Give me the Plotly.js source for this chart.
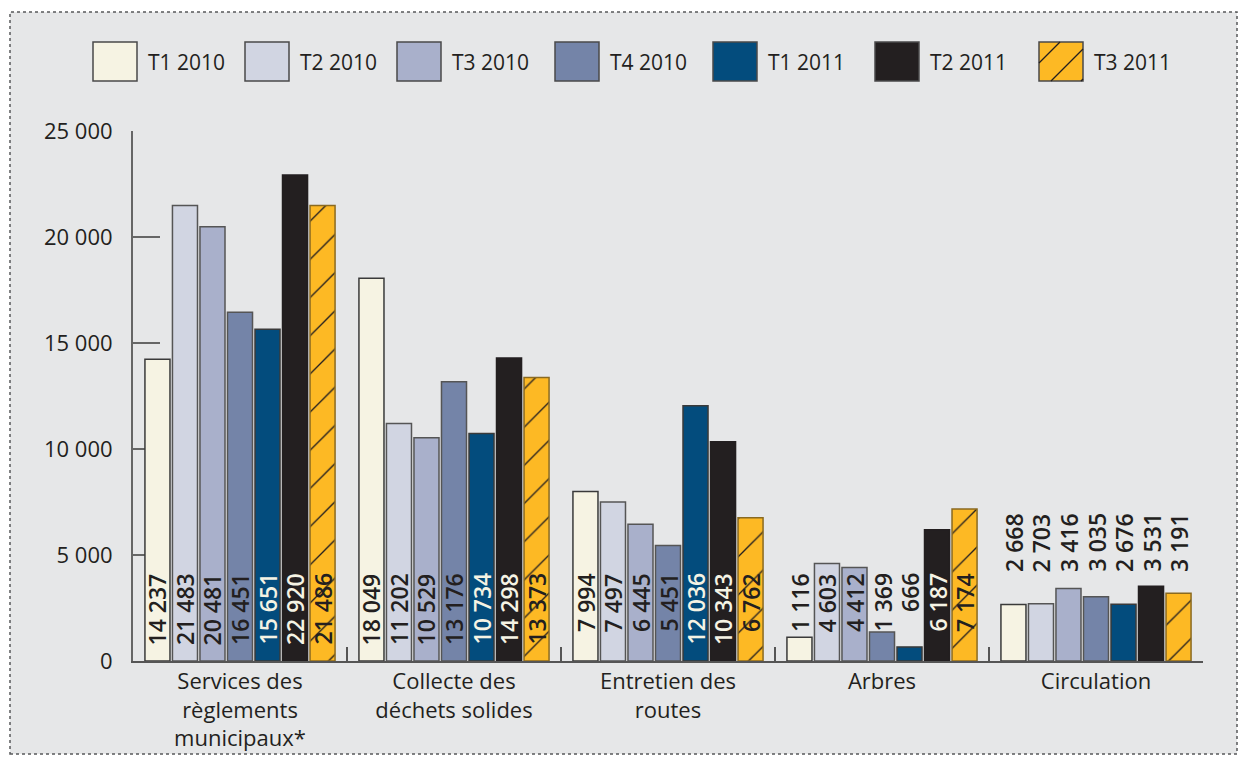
<!DOCTYPE html>
<html><head><meta charset="utf-8">
<script src="https://cdn.plot.ly/plotly-3.0.1.min.js"></script>
<style>html,body{margin:0;padding:0;background:#fff}#chart{width:1239px;height:757px}</style>
</head><body><div id="chart"></div>
<script>
// ---- data ----
const categories = ["Services des<br>règlements<br>municipaux*", "Collecte des<br>déchets solides", "Entretien des<br>routes", "Arbres", "Circulation"];
const seriesNames = ["T1 2010", "T2 2010", "T3 2010", "T4 2010", "T1 2011", "T2 2011", "T3 2011"];
const valuesT1_2010 = [14237, 18049, 7994, 1116, 2668];
const valuesT2_2010 = [21483, 11202, 7497, 4603, 2703];
const valuesT3_2010 = [20481, 10529, 6445, 4412, 3416];
const valuesT4_2010 = [16451, 13176, 5451, 1369, 3035];
const valuesT1_2011 = [15651, 10734, 12036, 666, 2676];
const valuesT2_2011 = [22920, 14298, 10343, 6187, 3531];
const valuesT3_2011 = [21486, 13373, 6762, 7174, 3191];
const yTickVals = [0, 5000, 10000, 15000, 20000, 25000];

const seriesValues = [valuesT1_2010, valuesT2_2010, valuesT3_2010, valuesT4_2010, valuesT1_2011, valuesT2_2011, valuesT3_2011];

// ---- style ----
const FONT = "Open Sans, Noto Sans, sans-serif";
const INK = "#231f20";
const colors = ["#f6f3e3", "#d1d5e2", "#a9b0cb", "#7484a8", "#034c7d", "#231f20", "#fdb924"];
const lineColors = ["#3a3a3a", "#555", "#555", "#555", "#3a3a3a", "#231f20", "#8a6a20"];
const darkBars = [false, false, false, false, true, true, false];
const W = 1239, H = 757, M = {l: 133, r: 36, t: 131, b: 96};
const pw = W - M.l - M.r, ph = H - M.t - M.b;
const px = x => (x - M.l) / pw;
const py = y => (H - M.b - y) / ph;
const yMax = 25000;
const labelLift = [90, 90, 90, 90, 150];   // px from baseline to label top, per group
const bargap = 0.1, nS = seriesNames.length;

const fmt = n => String(n).replace(/\B(?=(\d{3})+(?!\d))/g, " ");

const traces = seriesNames.map((name, i) => {
  const t = {
    type: "bar", name: name, x: categories, y: seriesValues[i],
    marker: {color: colors[i], line: {color: lineColors[i], width: 1.5}},
    hoverinfo: "skip"
  };
  if (i === 6) t.marker.pattern = {shape: "/", fgcolor: INK, bgcolor: colors[i], size: 27, solidity: 0.05, fillmode: "replace"};
  return t;
});

const annotations = [];
const slot = (1 - bargap) / nS;
categories.forEach((c, g) => {
  seriesValues.forEach((vals, i) => {
    const v = vals[g];
    const liftVal = labelLift[g] / ph * yMax;
    const inside = darkBars[i] && v >= liftVal;
    annotations.push({
      xref: "x", yref: "y", x: g - (1 - bargap) / 2 + slot * (i + 0.5), y: 0,
      xanchor: "center", yanchor: "top", yshift: labelLift[g],
      textangle: -90, showarrow: false, text: fmt(v),
      font: {family: FONT, size: 23, weight: 600, color: inside ? "#f5f3e4" : INK}
    });
  });
});

// legend (custom, large swatches)
const legendX = [93, 245, 397, 555, 713, 875, 1039];
const shapes = [{
  type: "rect", xref: "paper", yref: "paper", layer: "below",
  x0: px(10), x1: px(1237), y0: py(754), y1: py(12),
  fillcolor: "#e6e7e8", line: {color: "#58595b", width: 1.5, dash: "dot"}
}];
seriesNames.forEach((name, i) => {
  shapes.push({
    type: "rect", xref: "paper", yref: "paper",
    x0: px(legendX[i]), x1: px(legendX[i] + 44), y0: py(81), y1: py(42),
    fillcolor: colors[i], line: {color: "#4a4a4a", width: 1.5}
  });
  annotations.push({
    xref: "paper", yref: "paper", x: px(legendX[i] + 53), y: py(62),
    xanchor: "left", yanchor: "middle", showarrow: false, text: name,
    font: {family: FONT, size: 21, color: INK}
  });
});
// hatch in last legend swatch
(function () {
  const bx0 = legendX[6], bx1 = legendX[6] + 44, by0 = 42, by1 = 81;
  [1102, 1132, 1162].forEach(cst => {
    const xa = Math.max(bx0, cst - by1), xb = Math.min(bx1, cst - by0);
    if (xb > xa) shapes.push({
      type: "line", xref: "paper", yref: "paper",
      x0: px(xa), y0: py(cst - xa), x1: px(xb), y1: py(cst - xb),
      line: {color: INK, width: 1.2}
    });
  });
})();

const layout = {
  width: W, height: H, margin: M,
  paper_bgcolor: "#ffffff", plot_bgcolor: "rgba(0,0,0,0)",
  font: {family: FONT, color: INK},
  showlegend: false,
  barmode: "group", bargap: bargap, bargroupgap: 0.09,
  separators: ", ",
  xaxis: {
    type: "category", range: [-0.5, 4.5], tickson: "boundaries",
    ticks: "inside", ticklen: 14, tickwidth: 1.5, tickcolor: "#555",
    showline: true, linecolor: "#555", linewidth: 1.5,
    showgrid: false, zeroline: false, fixedrange: true,
    tickfont: {family: FONT, size: 22, color: INK}, layer: "below traces"
  },
  yaxis: {
    range: [0, yMax], tickvals: yTickVals, tickformat: ",d", separatethousands: true,
    ticks: "inside", ticklen: 27, tickwidth: 2, tickcolor: "#666",
    showline: true, linecolor: "#666", linewidth: 2,
    showgrid: false, zeroline: false, fixedrange: true,
    ticklabelstandoff: 14,
    tickfont: {family: FONT, size: 22, color: INK}, layer: "below traces"
  },
  shapes: shapes,
  annotations: annotations
};

Plotly.newPlot("chart", traces, layout, {displayModeBar: false, staticPlot: true});
</script>
</body></html>
